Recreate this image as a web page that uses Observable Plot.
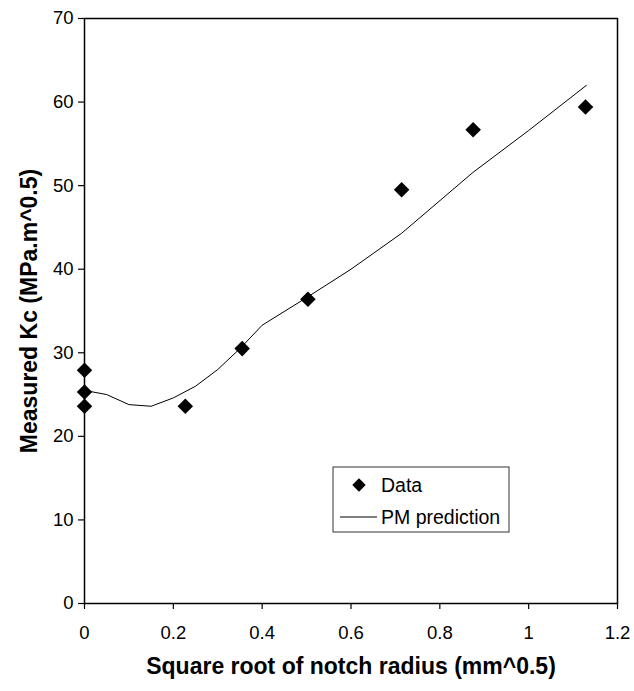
<!DOCTYPE html>
<html>
<head>
<meta charset="utf-8">
<script src="https://cdn.jsdelivr.net/npm/d3@7"></script>
<script src="https://cdn.jsdelivr.net/npm/@observablehq/plot@0.6"></script>
<style>
  html, body { margin: 0; padding: 0; background: #fff; }
  #chart { position: relative; width: 634px; height: 691px; font-family: "Liberation Sans", Arial, sans-serif; }
</style>
</head>
<body>
<div id="chart"></div>
<script>
// Measured data points
const dataX = [0, 0, 0, 0.227, 0.355, 0.503, 0.714, 0.875, 1.128];
const dataY = [27.9, 25.3, 23.6, 23.6, 30.5, 36.4, 49.5, 56.7, 59.4];

// PM prediction curve
const predX = [0, 0.05, 0.1, 0.15, 0.2, 0.25, 0.3, 0.35, 0.4, 0.5, 0.6, 0.714, 0.875, 1.0, 1.13];
const predY = [25.5, 25.0, 23.8, 23.6, 24.6, 26.0, 28.0, 30.5, 33.3, 36.6, 40.0, 44.3, 51.6, 56.6, 62.0];

// Axis ticks and labels
const xTicks = [0, 0.2, 0.4, 0.6, 0.8, 1, 1.2];
const yTicks = [0, 10, 20, 30, 40, 50, 60, 70];
const xTitle = "Square root of notch radius (mm^0.5)";
const yTitle = "Measured Kc (MPa.m^0.5)";
const legendLabels = ["Data", "PM prediction"];

const points = dataX.map((x, i) => ({x, y: dataY[i]}));
const pred = predX.map((x, i) => ({x, y: predY[i]}));

const font = "Liberation Sans, Arial, sans-serif";

const plot = Plot.plot({
  width: 634,
  height: 691,
  marginLeft: 84,
  marginRight: 17,
  marginTop: 18,
  marginBottom: 88,
  style: {fontFamily: font, background: "#fff", color: "#000", overflow: "visible"},
  x: {domain: [0, 1.2]},
  y: {domain: [0, 70]},
  marks: [
    Plot.frame({stroke: "#000", strokeWidth: 1.5}),
    Plot.line(pred, {x: "x", y: "y", stroke: "#000", strokeWidth: 1}),
    Plot.dot(points, {x: "x", y: "y", symbol: "square", rotate: 45, r: 6.2, fill: "#000", stroke: "none"}),
    Plot.axisX({ticks: xTicks, tickFormat: d => String(d), tickSize: 6, tickPadding: 16, fontSize: 18.5, label: null, stroke: "#000", strokeWidth: 1.2}),
    Plot.axisY({ticks: yTicks, tickFormat: d => String(d), tickSize: 6, tickPadding: 5, fontSize: 18.5, label: null, stroke: "#000", strokeWidth: 1.2}),
    Plot.text([xTitle], {frameAnchor: "bottom", textAnchor: "middle", dy: 70, fontSize: 23, fontWeight: "bold", fill: "#000"}),
    Plot.text([yTitle], {frameAnchor: "left", textAnchor: "middle", dx: -55, rotate: -90, fontSize: 23, fontWeight: "bold", fill: "#000"})
  ]
});

// Legend (layout only)
const svg = d3.select(plot);
const lg = svg.append("g").attr("font-family", font).attr("font-size", 19.5).attr("text-anchor", "start").attr("fill", "#000");
lg.append("rect").attr("x", 333).attr("y", 467).attr("width", 176).attr("height", 65)
  .attr("fill", "#fff").attr("stroke", "#333").attr("stroke-width", 1);
lg.append("path").attr("d", d3.symbol(d3.symbolSquare, 90)())
  .attr("transform", "translate(359,485) rotate(45)").attr("fill", "#000");
lg.append("text").attr("x", 381).attr("y", 485).attr("dy", "0.35em").text(legendLabels[0]);
lg.append("line").attr("x1", 340).attr("x2", 377).attr("y1", 517).attr("y2", 517)
  .attr("stroke", "#000").attr("stroke-width", 1);
lg.append("text").attr("x", 381).attr("y", 517).attr("dy", "0.35em").text(legendLabels[1]);

document.getElementById("chart").appendChild(plot);
</script>
</body>
</html>
